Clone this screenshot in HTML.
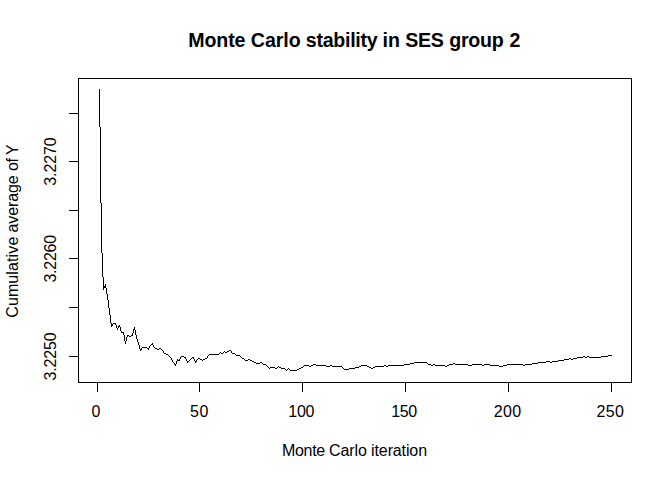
<!DOCTYPE html>
<html><head><meta charset="utf-8"><title>Monte Carlo stability in SES group 2</title>
<style>
html,body{margin:0;padding:0;background:#fff;}
body{width:672px;height:480px;overflow:hidden;font-family:"Liberation Sans",sans-serif;}
svg{display:block;}
.a{font-family:"Liberation Sans",sans-serif;font-size:16px;fill:#000;}
.t{font-family:"Liberation Sans",sans-serif;font-size:19.6px;font-weight:bold;fill:#000;}
</style></head>
<body>
<svg width="672" height="480" viewBox="0 0 672 480">
<rect width="672" height="480" fill="#fff"/>
<path d="M78 78h554v1h-554zM78 382h554v1h-554zM78 78h1v305h-1zM631 78h1v305h-1zM97 382h1v10h-1zM199 382h1v10h-1zM302 382h1v10h-1zM405 382h1v10h-1zM508 382h1v10h-1zM611 382h1v10h-1zM69 113h10v1h-10zM69 161h10v1h-10zM69 210h10v1h-10zM69 258h10v1h-10zM69 307h10v1h-10zM69 356h10v1h-10z" fill="#000" shape-rendering="crispEdges"/>
<path d="M99 89h1v38h-1zM100 127h1v76h-1zM101 203h1v50h-1zM102 253h1v24h-1zM103 277h1v13h-1zM104 286h1v2h-1zM105 284h1v4h-1zM106 288h1v6h-1zM107 294h1v6h-1zM108 300h1v8h-1zM109 308h1v7h-1zM110 315h1v8h-1zM111 323h1v4h-1zM112 324h1v2h-1zM113 323h2v1h-2zM115 323h1v2h-1zM116 325h1v3h-1zM117 328h1v2h-1zM118 326h1v2h-1zM119 325h1v2h-1zM120 327h1v4h-1zM121 331h1v2h-1zM122 332h1v1h-1zM123 332h1v3h-1zM124 335h1v6h-1zM125 341h1v3h-1zM126 337h1v4h-1zM127 335h1v2h-1zM128 335h1v1h-1zM129 336h2v1h-2zM131 335h1v1h-1zM132 333h1v3h-1zM133 329h1v4h-1zM134 327h1v3h-1zM135 330h1v5h-1zM136 335h1v4h-1zM137 339h1v3h-1zM138 342h1v3h-1zM139 345h1v4h-1zM140 349h1v2h-1zM141 348h1v2h-1zM142 347h5v1h-5zM147 348h1v1h-1zM148 348h1v2h-1zM149 346h1v2h-1zM150 345h1v1h-1zM151 344h1v1h-1zM152 343h1v2h-1zM153 345h1v2h-1zM154 347h1v1h-1zM155 348h2v1h-2zM157 349h2v1h-2zM159 348h2v1h-2zM161 349h1v1h-1zM162 350h1v1h-1zM163 351h1v2h-1zM164 353h2v1h-2zM166 354h2v1h-2zM168 355h1v1h-1zM169 356h1v1h-1zM170 357h1v1h-1zM171 358h1v2h-1zM172 360h1v2h-1zM173 362h1v1h-1zM174 363h1v2h-1zM175 364h1v2h-1zM176 361h1v3h-1zM177 359h1v2h-1zM178 360h1v1h-1zM179 359h1v2h-1zM180 357h1v2h-1zM181 356h3v1h-3zM184 357h1v1h-1zM185 357h1v2h-1zM186 359h1v2h-1zM187 361h1v2h-1zM188 361h1v1h-1zM189 360h1v1h-1zM190 359h1v1h-1zM191 358h1v1h-1zM192 357h1v1h-1zM193 357h1v2h-1zM194 359h1v2h-1zM195 361h1v2h-1zM196 360h1v2h-1zM197 359h1v1h-1zM198 358h2v1h-2zM200 359h2v1h-2zM202 360h1v1h-1zM203 359h2v1h-2zM205 358h2v1h-2zM207 356h1v2h-1zM208 355h1v1h-1zM209 354h10v1h-10zM219 353h1v1h-1zM220 352h1v1h-1zM221 353h2v1h-2zM223 352h1v1h-1zM224 351h1v1h-1zM225 352h2v1h-2zM227 351h2v1h-2zM229 350h2v1h-2zM231 351h1v2h-1zM232 353h3v1h-3zM235 354h1v1h-1zM236 355h4v1h-4zM240 356h1v1h-1zM241 357h1v1h-1zM242 358h2v1h-2zM244 359h1v1h-1zM245 360h3v1h-3zM248 359h2v1h-2zM250 360h2v1h-2zM252 361h2v1h-2zM254 362h2v1h-2zM256 363h4v1h-4zM260 362h2v1h-2zM262 363h1v1h-1zM263 364h3v1h-3zM266 365h1v1h-1zM267 366h1v1h-1zM268 367h1v1h-1zM269 368h1v1h-1zM270 367h5v1h-5zM275 368h2v1h-2zM277 367h1v1h-1zM278 366h1v1h-1zM279 367h2v1h-2zM281 368h4v1h-4zM285 369h1v1h-1zM286 370h1v1h-1zM287 369h1v1h-1zM288 368h1v1h-1zM289 369h1v1h-1zM290 370h7v1h-7zM297 369h2v1h-2zM299 368h2v1h-2zM301 367h2v1h-2zM303 366h1v1h-1zM304 365h5v1h-5zM309 366h2v1h-2zM311 365h2v1h-2zM313 364h3v1h-3zM316 365h10v1h-10zM326 366h4v1h-4zM330 365h2v1h-2zM332 366h10v1h-10zM342 367h1v1h-1zM343 368h1v1h-1zM344 369h5v1h-5zM349 368h6v1h-6zM355 367h4v1h-4zM359 366h2v1h-2zM361 365h6v1h-6zM367 366h2v1h-2zM369 367h2v1h-2zM371 368h2v1h-2zM373 367h2v1h-2zM375 366h9v1h-9zM384 365h2v1h-2zM386 366h2v1h-2zM388 365h16v1h-16zM404 364h6v1h-6zM410 363h4v1h-4zM414 362h13v1h-13zM427 363h1v1h-1zM428 364h3v1h-3zM431 365h2v1h-2zM433 364h2v1h-2zM435 365h10v1h-10zM445 366h2v1h-2zM447 365h2v1h-2zM449 364h4v1h-4zM453 363h2v1h-2zM455 364h13v1h-13zM468 365h4v1h-4zM472 364h10v1h-10zM482 365h2v1h-2zM484 364h6v1h-6zM490 365h9v1h-9zM499 366h4v1h-4zM503 365h4v1h-4zM507 364h16v1h-16zM523 365h2v1h-2zM525 364h7v1h-7zM532 363h6v1h-6zM538 362h8v1h-8zM546 361h4v1h-4zM550 362h2v1h-2zM552 361h6v1h-6zM558 360h6v1h-6zM564 359h5v1h-5zM569 358h2v1h-2zM571 359h2v1h-2zM573 358h4v1h-4zM577 357h6v1h-6zM583 356h2v1h-2zM585 357h2v1h-2zM587 356h2v1h-2zM589 357h12v1h-12zM601 356h7v1h-7zM608 355h4v1h-4z" fill="#000" shape-rendering="crispEdges"/>
<text x="188.25" y="47" class="t" style="letter-spacing:-0.125px">Monte</text>
<text x="250.85" y="47" class="t" style="letter-spacing:-0.056px">Carlo</text>
<text x="305.75" y="47" class="t" style="letter-spacing:-0.266px">stability</text>
<text x="382.38" y="47" class="t" style="letter-spacing:0.125px">in</text>
<text x="405.28" y="47" class="t" style="letter-spacing:-0.325px">SES</text>
<text x="449.15" y="47" class="t" style="letter-spacing:-0.225px">group</text>
<text x="509.52" y="47" class="t">2</text>
<text x="282.12" y="456" class="a" style="letter-spacing:-0.369px">Monte</text>
<text x="329.12" y="456" class="a" style="letter-spacing:-0.125px">Carlo</text>
<text x="371.12" y="456" class="a" style="letter-spacing:-0.125px">iteration</text>
<text x="91.61" y="417" class="a">0</text>
<text x="190.08" y="417" class="a" style="letter-spacing:0.55px">50</text>
<text x="288.35" y="417" class="a" style="letter-spacing:-0.363px">100</text>
<text x="391.25" y="417" class="a" style="letter-spacing:-0.438px">150</text>
<text x="493.85" y="417" class="a" style="letter-spacing:0.312px">200</text>
<text x="596.55" y="417" class="a" style="letter-spacing:0.312px">250</text>
<g transform="translate(18.0 316.9) rotate(-90)"><text x="-0.88" y="0" class="a" style="letter-spacing:0.114px">Cumulative</text><text x="84.38" y="0" class="a" style="letter-spacing:-0.1px">average</text><text x="145.98" y="0" class="a" style="letter-spacing:-0.35px">of</text><text x="161.94" y="0" class="a">Y</text></g>
<g transform="translate(56 380.0) rotate(-90)"><text x="-0.62" y="0" class="a" style="letter-spacing:-0.145px">3.2250</text></g>
<g transform="translate(56 281.9) rotate(-90)"><text x="-0.62" y="0" class="a" style="letter-spacing:-0.265px">3.2260</text></g>
<g transform="translate(56 185.1) rotate(-90)"><text x="-0.62" y="0" class="a" style="letter-spacing:-0.105px">3.2270</text></g>
</svg>
</body></html>
